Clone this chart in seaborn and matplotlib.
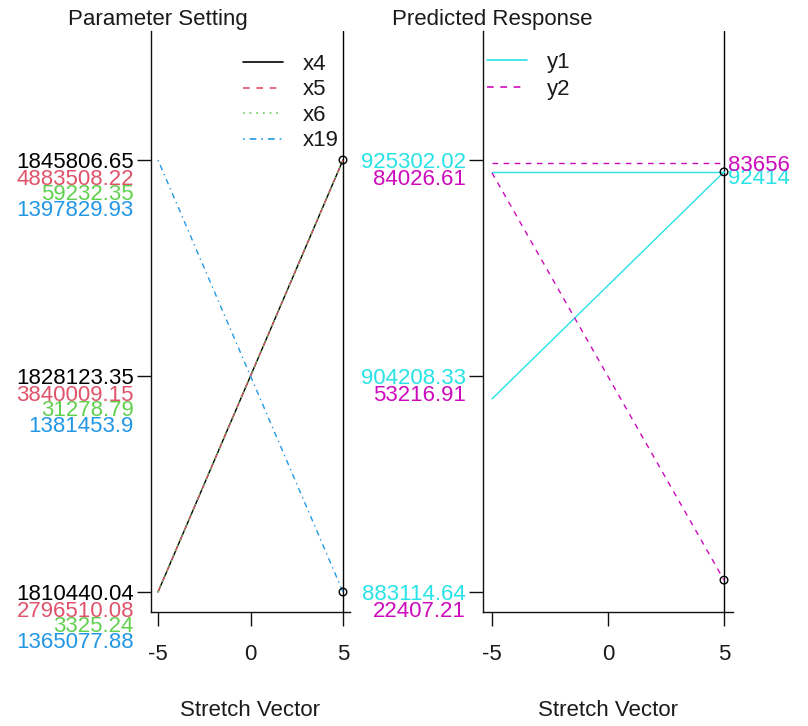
import numpy as np
import pandas as pd
import matplotlib
matplotlib.use("Agg")
import matplotlib.pyplot as plt
import seaborn as sns
from matplotlib.transforms import Bbox, TransformedBbox

# ---------------- data ----------------
stretch = [-5, 5]

param_names = ["x4", "x5", "x6", "x19"]
param_colors = ["#000000", "#DF536B", "#61D04F", "#2297E6"]
param_styles = ["-", (0, (4, 4)), (0, (1, 3)), (0, (1, 3, 4, 3))]
# tick values (min, mid, max) per parameter
x4_ticks = [1810440.04, 1828123.35, 1845806.65]
x5_ticks = [2796510.08, 3840009.15, 4883508.22]
x6_ticks = [3325.24, 31278.79, 59232.35]
x19_ticks = [1365077.88, 1381453.9, 1397829.93]
# parameter values along the stretch vector (at -5 and 5)
x4_path = [1810440.04, 1845806.65]
x5_path = [2796510.08, 4883508.22]
x6_path = [3325.24, 59232.35]
x19_path = [1397829.93, 1365077.88]
param_ticks = [x4_ticks, x5_ticks, x6_ticks, x19_ticks]
param_paths = [x4_path, x5_path, x6_path, x19_path]
param_points = [("x4", 1845806.65), ("x19", 1365077.88)]

resp_names = ["y1", "y2"]
resp_colors = ["#28E2E5", "#CD0BBC"]
resp_styles = ["-", (0, (4, 4))]
y1_ticks = [883114.64, 904208.33, 925302.02]
y2_ticks = [22407.21, 53216.91, 84026.61]
y1_path = [901970.0, 924140.0]
y2_path = [82200.0, 24100.0]
y1_current = 924140.0
y2_current = 83656.0
resp_ticks = [y1_ticks, y2_ticks]
resp_paths = [y1_path, y2_path]
resp_current = [y1_current, y2_current]
resp_points = [("y1", 924140.0), ("y2", 24100.0)]

label_offsets_px = [0, 17, 32.5, 48.5]
resp_label_offsets_px = [0, 17]

# ---------------- setup ----------------
sns.set_theme(style="white")
plt.rcParams["font.family"] = ["Liberation Sans", "DejaVu Sans"]
plt.rcParams["axes.unicode_minus"] = False
FS = 16
TXT = "#1a1a1a"

W, H = 808, 726
fig = plt.figure(figsize=(W / 100, H / 100), dpi=100)


def px_axes(x0, x1, ytop, ybot):
    return fig.add_axes([x0 / W, (H - ybot) / H, (x1 - x0) / W, (ybot - ytop) / H])


axL = px_axes(150.6, 350.4, 31, 612)
axR = px_axes(482.7, 733.3, 31, 612)


def norm(v, t):
    return (np.asarray(v, float) - t[0]) / (t[2] - t[0])


def fmt(v):
    return f"{v:.2f}".rstrip("0").rstrip(".")


def style_axes(ax, title):
    ax.set_xlim(-5.4, 5.4)
    ax.set_ylim(-20 / 432, 561 / 432)
    for s in ["top", "right"]:
        ax.spines[s].set_visible(False)
    for s in ["left", "bottom"]:
        ax.spines[s].set_color("#111111")
        ax.spines[s].set_linewidth(1.0)
    ax.set_xticks([-5, 0, 5])
    ax.set_xticklabels(["-5", "0", "5"], fontsize=FS, color=TXT)
    ax.set_yticks([0, 0.5, 1])
    ax.tick_params(axis="both", direction="out", length=10, width=1.0,
                   color="#111111", left=True, bottom=True)
    ax.tick_params(axis="x", pad=13)
    ax.tick_params(axis="y", pad=2)
    ax.annotate(title, xy=(-5, 1), xycoords=("data", "axes fraction"),
                xytext=(0, 11 * 0.72), textcoords="offset points",
                ha="center", va="center", fontsize=FS, color=TXT)
    ax.axvline(5, color="black", lw=1.0, zorder=1)


def stacked_labels(ax, ticks_list, colors, offsets):
    ax.set_yticklabels([fmt(v) for v in ticks_list[0]], fontsize=FS)
    for lab in ax.get_yticklabels():
        lab.set_color(colors[0])
    for ticks, c, off in zip(ticks_list[1:], colors[1:], offsets[1:]):
        for i, v in enumerate(ticks):
            ax.annotate(fmt(v), xy=(0, i * 0.5), xycoords=("axes fraction", "data"),
                        xytext=(-12.0, -off * 0.72),
                        textcoords="offset points", ha="right",
                        va="center_baseline", fontsize=FS, color=c,
                        annotation_clip=False)


# ---------------- left panel ----------------
style_axes(axL, "Parameter Setting")
for name, col, ls, t, p in zip(param_names, param_colors, param_styles,
                               param_ticks, param_paths):
    df = pd.DataFrame({"stretch": stretch, "value": norm(p, t)})
    sns.lineplot(data=df, x="stretch", y="value", ax=axL, color=col,
                 linestyle=ls, lw=1.0, label=name)
ptsL = pd.DataFrame({"stretch": [5, 5],
                     "value": [norm(v, param_ticks[param_names.index(n)])
                               for n, v in param_points]})
axL.scatter(ptsL["stretch"], ptsL["value"], s=30, facecolors="none",
            edgecolors="black", linewidths=1.0, zorder=5)
axL.set_xlabel("Stretch Vector", fontsize=FS, labelpad=25, color=TXT)
axL.set_ylabel("")
stacked_labels(axL, param_ticks, param_colors, label_offsets_px)
legL = axL.legend(loc="upper left", bbox_to_anchor=((243 - 150.6) / 199.8, (612 - 54) / 581),
                  frameon=False, fontsize=FS, handlelength=1.8, handletextpad=0.9,
                  labelspacing=0.2, borderpad=0, borderaxespad=0)
for t in legL.get_texts():
    t.set_color(TXT)
for h in legL.get_lines():
    h.set_linewidth(1.2)

# ---------------- right panel ----------------
style_axes(axR, "Predicted Response")
for name, col, ls, t, p, cur in zip(resp_names, resp_colors, resp_styles,
                                    resp_ticks, resp_paths, resp_current):
    df = pd.DataFrame({"stretch": stretch, "value": norm(p, t)})
    sns.lineplot(data=df, x="stretch", y="value", ax=axR, color=col,
                 linestyle=ls, lw=1.0, label=name)
    dfc = pd.DataFrame({"stretch": stretch, "value": norm([cur, cur], t)})
    sns.lineplot(data=dfc, x="stretch", y="value", ax=axR, color=col,
                 linestyle=ls, lw=1.0)
ptsR = pd.DataFrame({"stretch": [5, 5],
                     "value": [norm(v, resp_ticks[resp_names.index(n)])
                               for n, v in resp_points]})
axR.scatter(ptsR["stretch"], ptsR["value"], s=30, facecolors="none",
            edgecolors="black", linewidths=1.0, zorder=5)
axR.set_xlabel("Stretch Vector", fontsize=FS, labelpad=25, color=TXT)
axR.set_ylabel("")
stacked_labels(axR, resp_ticks, resp_colors, resp_label_offsets_px)
legR = axR.legend(loc="upper left", bbox_to_anchor=((487 - 482.7) / 250.6, (612 - 52) / 581),
                  frameon=False, fontsize=FS, handlelength=1.8, handletextpad=0.9,
                  labelspacing=0.25, borderpad=0, borderaxespad=0)
for t in legR.get_texts():
    t.set_color(TXT)
for h in legR.get_lines():
    h.set_linewidth(1.2)

# current response values at the right end, clipped by the device region
clip = TransformedBbox(Bbox([[0, 0], [790 / W, 1]]), fig.transFigure)
for name, col, t, cur, dy in zip(resp_names, resp_colors, resp_ticks,
                                 resp_current, [-4, 0]):
    txt = axR.annotate(fmt(cur), xy=(5, norm(cur, t)), xycoords="data",
                       xytext=(3, dy * 0.72), textcoords="offset points",
                       ha="left", va="center_baseline", fontsize=FS, color=col,
                       annotation_clip=False)
    txt.set_clip_on(True)
    txt.set_clip_box(clip)

fig.savefig("out.png", dpi=100, facecolor="white")
